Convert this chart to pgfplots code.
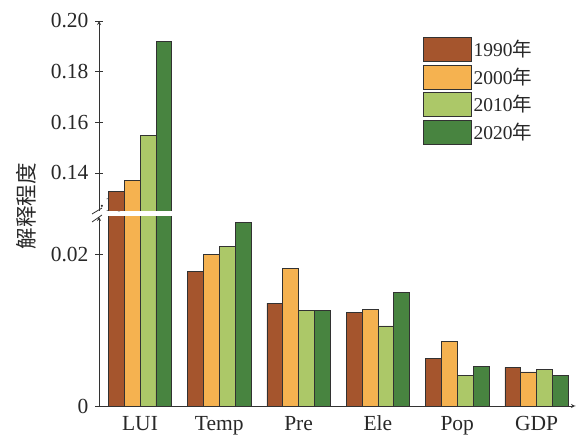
\documentclass[border=0pt]{standalone}
\usepackage{pgfplots}
\pgfplotsset{compat=1.18}
\usepackage{fontspec}
\setmainfont{Liberation Serif}
\newfontfamily\cjk{Noto Sans CJK SC}
\definecolor{c1990}{RGB}{165,85,45}
\definecolor{c2000}{RGB}{245,178,80}
\definecolor{c2010}{RGB}{172,200,104}
\definecolor{c2020}{RGB}{72,132,64}
\definecolor{edgecol}{RGB}{50,50,50}
\definecolor{txt}{RGB}{40,40,40}
\pgfplotsset{
  mybar/.style={ybar, bar width=0.2, fill=#1, draw=edgecol, line width=0.6pt,
    legend image code/.code={\draw[fill=#1,draw=edgecol,line width=0.6pt] (0pt,-12pt) rectangle (48pt,12pt);}},
  common/.style={
    scale only axis, width=476pt,
    xmin=-0.517, xmax=5.485,
    axis line style={-, line width=0.8pt, draw=black!80},
    tick align=inside, major tick length=8pt,
    every tick/.style={line width=0.8pt, draw=black!80},
    ticklabel style={font=\fontsize{21.5}{25}\selectfont, text=txt},
    yticklabel style={xshift=-3pt},
  }
}
\begin{document}
\begin{tikzpicture}
\path[use as bounding box] (0,0) rectangle (578pt,436pt);
% lower axis
\begin{axis}[common,
  at={(99pt,30pt)}, anchor=south west, height=189pt,
  ymin=0, ymax=0.025,
  axis x line=bottom, axis y line=left,
  xtick={0,1,2,3,4,5}, xticklabels={LUI,Temp,Pre,Ele,Pop,GDP},
  major x tick style={draw=none},
  xticklabel style={yshift=-2.5pt},
  ytick={0,0.02}, yticklabels={0,0.02},
]
\addplot[mybar=c1990, bar shift=-0.3, forget plot] coordinates {(0,0.1329) (1,0.0178) (2,0.0136) (3,0.0124) (4,0.0063) (5,0.0051)};
\addplot[mybar=c2000, bar shift=-0.1, forget plot] coordinates {(0,0.1371) (1,0.0200) (2,0.0182) (3,0.0128) (4,0.0085) (5,0.0045)};
\addplot[mybar=c2010, bar shift=0.1, forget plot] coordinates {(0,0.1550) (1,0.0211) (2,0.0126) (3,0.0106) (4,0.0041) (5,0.0048)};
\addplot[mybar=c2020, bar shift=0.3, forget plot] coordinates {(0,0.1919) (1,0.0243) (2,0.0126) (3,0.0150) (4,0.0052) (5,0.0040)};
\draw[line width=1.5pt, black] (rel axis cs:1,0) -- ++(0,8pt);
\end{axis}
% upper axis
\begin{axis}[common,
  at={(99pt,225pt)}, anchor=south west, height=190pt,
  ymin=0.125, ymax=0.2,
  axis x line=none, axis y line=left,
  xtick=\empty,
  ytick={0.14,0.16,0.18,0.20}, yticklabels={0.14,0.16,0.18,0.20},
  legend style={at={(0.6807,0.9158)}, anchor=north west, draw=none, fill=none,
    inner sep=0pt, outer sep=0pt, row sep=3pt,
    font=\fontsize{19.5}{21}\selectfont, text=txt,
    nodes={inner sep=2pt}, cells={anchor=west}},
]
\addplot[mybar=c1990, bar shift=-0.3] coordinates {(0,0.1329)};
\addplot[mybar=c2000, bar shift=-0.1] coordinates {(0,0.1371)};
\addplot[mybar=c2010, bar shift=0.1] coordinates {(0,0.1550)};
\addplot[mybar=c2020, bar shift=0.3] coordinates {(0,0.1919)};
\legend{1990{\cjk 年},2000{\cjk 年},2010{\cjk 年},2020{\cjk 年}}
\end{axis}
% axis break marks
\draw[line width=0.8pt, black!80] (92pt,222pt) -- (102pt,228pt);
\draw[line width=0.8pt, black!80] (92pt,214pt) -- (102pt,221pt);
\node[rotate=90, text=txt, font=\fontsize{21.5}{25}\selectfont] at (26pt,229.5pt) {\cjk 解释程度};
\end{tikzpicture}
\end{document}
